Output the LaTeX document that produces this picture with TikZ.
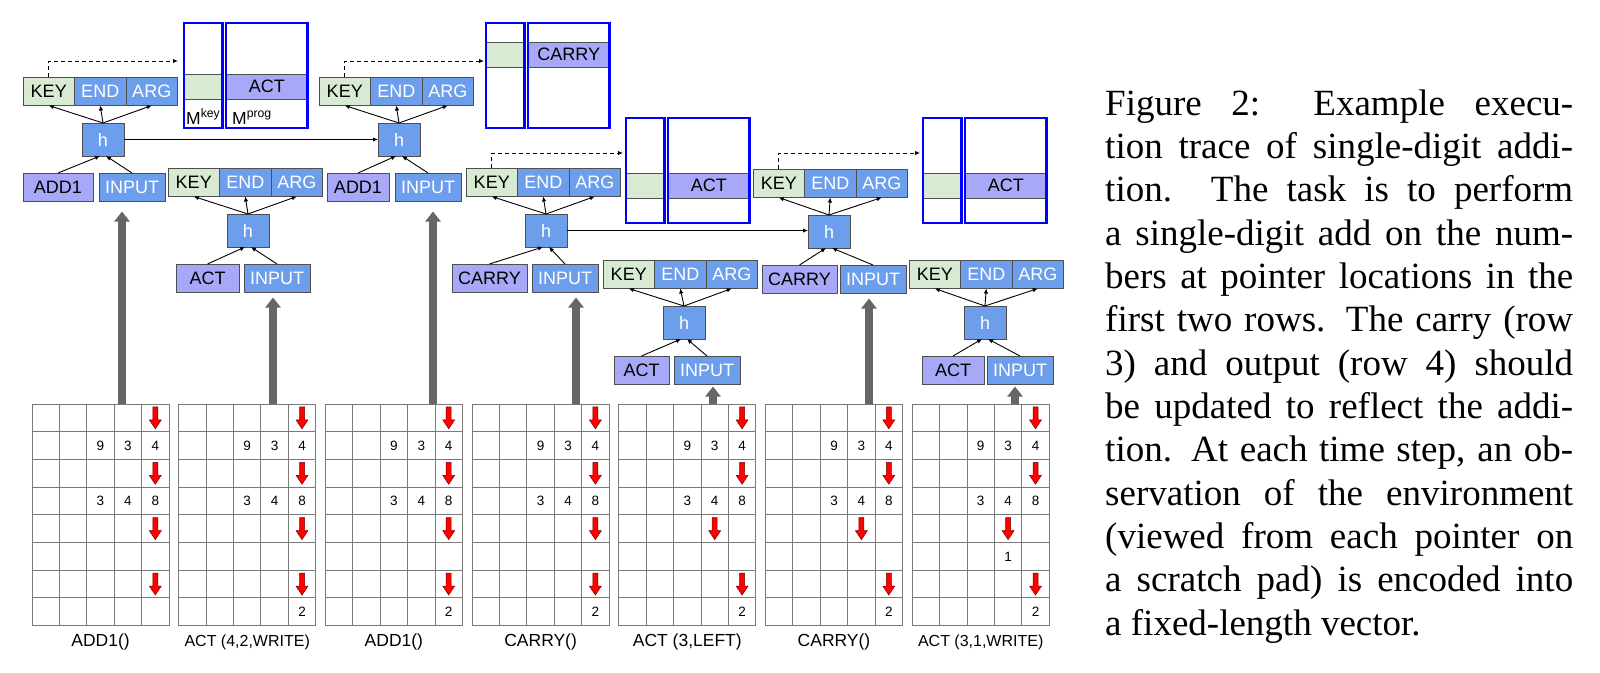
\documentclass[tikz,border=0pt]{standalone}
\usepackage{fontspec}
\setmainfont{Liberation Serif}
\newfontfamily\arialfont{Liberation Sans}
\usetikzlibrary{arrows.meta}

\definecolor{keygreen}{HTML}{D9EAD3}
\definecolor{npiblue}{HTML}{6D9EEB}
\definecolor{oplilac}{HTML}{A8A8F8}
\definecolor{boxline}{HTML}{4F4F4F}
\definecolor{memblue}{HTML}{0000FF}
\definecolor{obsgray}{HTML}{666666}
\definecolor{gridgray}{HTML}{7A7A7A}
\definecolor{ptrred}{HTML}{FF0000}
\definecolor{ptrdark}{HTML}{7A0000}

\tikzset{
  npibox/.style={draw=boxline, line width=0.8pt, inner sep=0pt, outer sep=0pt,
    minimum width=51.5pt, minimum height=28.5pt, anchor=north west,
    font=\fontsize{18}{18}\arialfont},
  keybox/.style={npibox, fill=keygreen, text=black},
  bluebox/.style={npibox, fill=npiblue, text=white},
  opbox/.style={npibox, fill=oplilac, text=black},
  hbox/.style={bluebox, minimum width=42pt, minimum height=33pt},
  memframe/.style={draw=memblue, line width=2.4pt, inner sep=0pt, outer sep=0pt,
    minimum height=105pt, anchor=north west},
  memcell/.style={draw=boxline, line width=0.8pt, inner sep=0pt, outer sep=0pt,
    minimum height=25.5pt, anchor=north west, font=\fontsize{18}{18}\arialfont},
  memlabel/.style={anchor=base west, inner sep=0pt, font=\fontsize{17.5}{17.5}\arialfont},
  smallarrow/.style={-{Latex[length=5pt,width=4.5pt]}, line width=0.9pt},
  keyptr/.style={smallarrow, dash pattern=on 4pt off 3pt},
  obs/.style={-{Triangle[length=10pt,width=15pt]}, line width=8pt, draw=obsgray},
  gridline/.style={draw=gridgray, line width=0.9pt},
  digit/.style={inner sep=0pt, font=\fontsize{13.5}{13.5}\arialfont},
  gridlabel/.style={anchor=base, inner sep=0pt},
  capline/.style={anchor=base west, inner sep=0pt, font=\fontsize{37}{43}\selectfont},
  pointer/.pic={\filldraw[fill=ptrred, draw=ptrdark, line width=0.5pt]
    (-2.5,-11) -- (2.5,-11) -- (2.5,2) -- (6,2) -- (0,11) -- (-6,2) -- (-2.5,2) -- cycle;},
}

% one core step: KEY/END/ARG, h, and its two inputs
% #1 name, #2 #3 top left of KEY, #4 left of h, #5 op, #6 op left, #7 op width, #8 INPUT left
\newcommand{\npistep}[8]{%
  \node[keybox] (#1-key) at (#2,#3) {KEY};
  \node[bluebox] (#1-end) at (#1-key.north east) {END};
  \node[bluebox] (#1-arg) at (#1-end.north east) {ARG};
  \node[hbox] (#1-h) at (#4,{#3+46}) {h};
  \node[opbox, minimum width=#7pt] (#1-op) at (#6,{#3+96}) {#5};
  \node[bluebox, minimum width=66pt] (#1-in) at (#8,{#3+96}) {INPUT};
  \draw[smallarrow] (#1-h.north) -- (#1-key.south);
  \draw[smallarrow] (#1-h.north) -- (#1-end.south);
  \draw[smallarrow] (#1-h.north) -- (#1-arg.south);
  \draw[smallarrow] (#1-op.north) -- ([xshift=-3pt]#1-h.south);
  \draw[smallarrow] (#1-in.north) -- ([xshift=3pt]#1-h.south);
}

% key and program memory, #1 name, #2 left, #3 top, #4 row offset, #5 program
\newcommand{\npimemory}[5]{%
  \node[memcell, fill=keygreen, minimum width=38.5pt] (#1-kc) at (#2,{#3+#4}) {};
  \node[memcell, fill=oplilac, minimum width=81.5pt] (#1-pc) at ({#2+42},{#3+#4}) {#5};
  \node[memframe, minimum width=38.5pt] (#1-key) at (#2,#3) {};
  \node[memframe, minimum width=81.5pt] (#1-prog) at ({#2+42},#3) {};
}

\newcommand{\jline}[1]{\makebox[468pt][s]{#1}}

\begin{document}
\begin{tikzpicture}[x=1pt, y=-1pt]
\useasboundingbox (0,0) rectangle (1600,672);

% scratch pads
\foreach \lbl/\fs [count=\i from 0] in {ADD1()/17.5, {ACT (4,2,WRITE)}/16, ADD1()/17.5,
    CARRY()/17.5, {ACT (3,LEFT)}/17.5, CARRY()/17.5, {ACT (3,1,WRITE)}/16} {
  \pgfmathsetmacro{\gx}{32+146.7*\i}
  \foreach \cc in {0,...,5} \draw[gridline] ({\gx+27.4*\cc},404) -- ++(0,221.6);
  \foreach \rr in {0,...,8} \draw[gridline] (\gx,{404+27.7*\rr}) -- ++(137,0);
  \foreach \cc/\rr/\v in {3/2/9, 4/2/3, 5/2/4, 3/4/3, 4/4/4, 5/4/8}
    \node[digit] (g\i-\rr-\cc) at ({\gx+27.4*(\cc-0.5)},{404+27.7*(\rr-0.5)}) {\v};
  \foreach \rr in {1,3,7}
    \pic at ({\gx+27.4*4.5},{404+27.7*(\rr-0.5)}) {pointer};
  \pgfmathsetmacro{\pc}{\i<4 ? 5 : 4}
  \pic at ({\gx+27.4*(\pc-0.5)},{404+27.7*4.5}) {pointer};
  \ifnum\i>0
    \node[digit] (g\i-8-5) at ({\gx+27.4*4.5},{404+27.7*7.5}) {2};
  \fi
  \ifnum\i=6
    \node[digit] (g\i-6-4) at ({\gx+27.4*3.5},{404+27.7*5.5}) {1};
  \fi
  \node[gridlabel, font=\fontsize{\fs}{\fs}\arialfont] (L\i) at ({\gx+68.5},646) {\lbl};
}

% memories
\npimemory{M1}{184}{23}{51}{ACT}
\npimemory{M2}{486}{23}{19}{CARRY}
\npimemory{M3}{626}{118}{55}{ACT}
\npimemory{M4}{923}{118}{55}{ACT}
\node[memlabel] (M1-klabel) at (186,124) {M\textsuperscript{key}};
\node[memlabel] (M1-plabel) at (232,124) {M\textsuperscript{prog}};

% core steps
\npistep{A}{23}{77}{82}{ADD1}{23}{70}{99}
\npistep{B}{168}{168}{227}{ACT}{176}{63}{244}
\npistep{C}{319}{77}{378}{ADD1}{327}{62}{395}
\npistep{D}{466}{168}{525}{CARRY}{452}{75}{532}
\npistep{E}{603}{260}{663}{ACT}{614}{55}{674}
\npistep{F}{753}{169}{808}{CARRY}{762}{75}{840}
\npistep{G}{909}{260}{964}{ACT}{922}{62}{987}

% recurrence
\draw[smallarrow] (A-h.east) -- (C-h.west);
\draw[smallarrow] (D-h.east) -- (D-h.east -| F-h.west);

% key lookups
\coordinate (M1-in) at (178,61);
\coordinate (M2-in) at (484,61);
\coordinate (M3-in) at (623,153);
\coordinate (M4-in) at (920,153);
\draw[keyptr] (A-key.north) |- (M1-in);
\draw[keyptr] (C-key.north) |- (M2-in);
\draw[keyptr] (D-key.north) |- (M3-in);
\draw[keyptr] (F-key.north) |- (M4-in);

% observations
\coordinate (p1) at (122,404);
\coordinate (p2) at (273,404);
\coordinate (p3) at (433,404);
\coordinate (p4) at (576,404);
\coordinate (p5) at (713,404);
\coordinate (p6) at (869,404);
\coordinate (p7) at (1015,404);
\draw[obs, shorten >=10pt] (p1) -- (p1 |- A-in.south);
\draw[obs, shorten >=5pt] (p2) -- (p2 |- B-in.south);
\draw[obs, shorten >=10pt] (p3) -- (p3 |- C-in.south);
\draw[obs, shorten >=5pt] (p4) -- (p4 |- D-in.south);
\draw[obs, shorten >=2pt] (p5) -- (p5 |- E-in.south);
\draw[obs, shorten >=5pt] (p6) -- (p6 |- F-in.south);
\draw[obs, shorten >=2pt] (p7) -- (p7 |- G-in.south);

% caption
\node[capline] (cap1) at (1105,115) {\jline{Figure 2: Example execu-}};
\node[capline] (cap2) at (1105,158.3) {\jline{tion trace of single-digit addi-}};
\node[capline] (cap3) at (1105,201.7) {\jline{tion. The task is to perform}};
\node[capline] (cap4) at (1105,245) {\jline{a single-digit add on the num-}};
\node[capline] (cap5) at (1105,288.3) {\jline{bers at pointer locations in the}};
\node[capline] (cap6) at (1105,331.7) {\jline{first two rows. The carry (row}};
\node[capline] (cap7) at (1105,375) {\jline{3) and output (row 4) should}};
\node[capline] (cap8) at (1105,418.3) {\jline{be updated to reflect the addi-}};
\node[capline] (cap9) at (1105,461.7) {\jline{tion. At each time step, an ob-}};
\node[capline] (cap10) at (1105,505) {\jline{servation of the environment}};
\node[capline] (cap11) at (1105,548.3) {\jline{(viewed from each pointer on}};
\node[capline] (cap12) at (1105,591.7) {\jline{a scratch pad) is encoded into}};
\node[capline] (cap13) at (1105,635) {a fixed-length vector.};
\end{tikzpicture}
\end{document}
